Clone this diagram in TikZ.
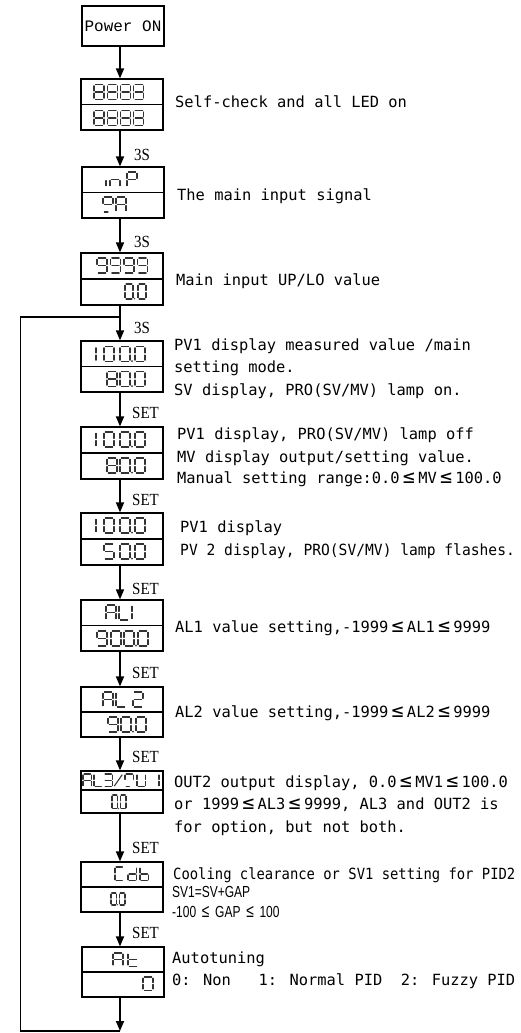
\documentclass[tikz,border=0pt]{standalone}
\usepackage{fontspec}
\setmainfont{Liberation Serif}
\newfontfamily\descfont{DejaVu Sans Mono}
\newfontfamily\descfontB[FakeStretch=0.95]{DejaVu Sans Mono}
\newfontfamily\descfontC[FakeStretch=0.9]{DejaVu Sans Mono}
\newfontfamily\pwrfont{Liberation Mono}
\newfontfamily\lblfont[FakeStretch=0.88]{Liberation Serif}
\newfontfamily\narrowfont[FakeStretch=0.75]{Liberation Sans}
\usetikzlibrary{arrows.meta}

\newcommand\LE{\makebox[1.204em]{\scalebox{1.3}{≤}}}
\newcommand\LEn{\makebox[19pt]{\scalebox{1.15}{≤}}}
\newcommand\SEGa{\draw[seg] (1.3,0) -- (8.7,0);}
\newcommand\SEGb{\draw[seg] (10,1.3) -- (10,6.4);}
\newcommand\SEGc{\draw[seg] (10,8.6) -- (10,13.7);}
\newcommand\SEGd{\draw[seg] (1.3,15) -- (8.7,15);}
\newcommand\SEGe{\draw[seg] (0,8.6) -- (0,13.7);}
\newcommand\SEGf{\draw[seg] (0,1.3) -- (0,6.4);}
\newcommand\SEGg{\draw[seg] (1.3,7.5) -- (8.7,7.5);}
\newcommand\SEGh{\draw[seg] (1.3,15) -- (5,15);}
\newcommand\SEGs{\draw[seg] (0.5,14) -- (9.5,1);}
\newcommand\SEGp{\fill[segc] (12,14.6) circle (0.9);}
\newcommand\sseg[4][]{\begin{scope}[shift={(#2,#3)},#1]\foreach \s in {#4}{\csname SEG\s\endcsname}\end{scope}}

\tikzset{
  seg/.style={draw=black!80, line width=1.05pt, line cap=round},
  segc/.style={fill=black!80},
  dispbox/.style={draw, line width=1.2pt, minimum width=82pt, inner sep=0pt},
  arr/.style={line width=1.7pt, -{Triangle[length=10pt,width=8pt]}},
  loopline/.style={line width=1.2pt},
  desc/.style={anchor=base west, inner sep=0pt, font=\descfont\fontsize{15.4}{18}\selectfont},
  lbl/.style={anchor=base west, inner sep=0pt, font=\lblfont\fontsize{17}{20}\selectfont}
}

\begin{document}
\begin{tikzpicture}[x=1pt,y=-1pt]
\fill[white] (0,0) rectangle (520,1033);
\useasboundingbox (0,0) rectangle (520,1033);

% boxes
\node[dispbox, minimum height=40pt, font=\pwrfont\fontsize{16}{18}\selectfont] (p0) at (123,26) {Power ON};
\node[dispbox, minimum height=51pt] (b1) at (122,104.5) {};
\node[dispbox, minimum height=51pt] (b2) at (123,192.5) {};
\node[dispbox, minimum height=52pt] (b3) at (122,279) {};
\node[dispbox, minimum height=51pt] (b4) at (122,366.5) {};
\node[dispbox, minimum height=52pt] (b5) at (122,453) {};
\node[dispbox, minimum height=52pt] (b6) at (122,539) {};
\node[dispbox, minimum height=51pt] (b7) at (122,625.5) {};
\node[dispbox, minimum height=50pt] (b8) at (122,712) {};
\node[dispbox, minimum height=42pt] (b9) at (122,792) {};
\node[dispbox, minimum height=50pt] (b10) at (122,887) {};
\node[dispbox, minimum height=50pt] (b11) at (123,972) {};

% dividers
\foreach \b in {b1,b2,b3,b4,b5,b6,b7,b8,b10,b11}{\draw[line width=1.2pt] (\b.west) -- (\b.east);}
\draw[line width=1.2pt] ([yshift=2pt]b9.west) -- ([yshift=2pt]b9.east);

% arrows
\coordinate (ax) at (120,0);
\coordinate (bot) at (120,1031);
\coordinate (lc) at (20.5,1031);
\coordinate (lj) at (120,317);
\draw[arr] (p0.south -| ax) -- (b1.north -| ax);
\draw[arr] (b1.south -| ax) -- (b2.north -| ax);
\draw[arr] (b2.south -| ax) -- (b3.north -| ax);
\draw[arr] (b3.south -| ax) -- (b4.north -| ax);
\draw[arr] (b4.south -| ax) -- (b5.north -| ax);
\draw[arr] (b5.south -| ax) -- (b6.north -| ax);
\draw[arr] (b6.south -| ax) -- (b7.north -| ax);
\draw[arr] (b7.south -| ax) -- (b8.north -| ax);
\draw[arr] (b8.south -| ax) -- (b9.north -| ax);
\draw[arr] (b9.south -| ax) -- (b10.north -| ax);
\draw[arr] (b10.south -| ax) -- (b11.north -| ax);
\draw[arr] (b11.south -| ax) -- (bot);
\draw[loopline] (bot) -- (lc) |- (lj);

% arrow labels
\node[lbl] (l1) at (134,160) {3S};
\node[lbl] (l2) at (134,247) {3S};
\node[lbl] (l3) at (134,333) {3S};
\node[lbl] (l4) at (132,418) {SET};
\node[lbl] (l5) at (132,505) {SET};
\node[lbl] (l6) at (132,594) {SET};
\node[lbl] (l7) at (132,678) {SET};
\node[lbl] (l8) at (132,762) {SET};
\node[lbl] (l9) at (132,853) {SET};
\node[lbl] (l10) at (132,938) {SET};

% descriptions
\node[desc] (t1) at (175,107) {Self-check and all LED on};
\node[desc] (t2) at (177,200) {The main input signal};
\node[desc] (t3) at (176,285) {Main input UP/LO value};
\node[desc] (t4a) at (174,350) {PV1 display measured value /main};
\node[desc] (t4b) at (174,372) {setting mode.};
\node[desc] (t4c) at (174,395) {SV display, PRO(SV/MV) lamp on.};
\node[desc] (t5a) at (177,439) {PV1 display, PRO(SV/MV) lamp off};
\node[desc] (t5b) at (177,462) {MV display output/setting value.};
\node[desc] (t5c) at (177,483) {Manual setting range:0.0\LE MV\LE 100.0};
\node[desc] (t6a) at (180,532) {PV1 display};
\node[desc, font=\descfontB\fontsize{15.4}{18}\selectfont] (t6b) at (180,555) {PV 2 display, PRO(SV/MV) lamp flashes.};
\node[desc] (t7) at (175,632) {AL1 value setting,-1999\LE AL1\LE 9999};
\node[desc] (t8) at (175,717) {AL2 value setting,-1999\LE AL2\LE 9999};
\node[desc] (t9a) at (174,787) {OUT2 output display, 0.0\LE MV1\LE 100.0};
\node[desc] (t9b) at (174,809) {or 1999\LE AL3\LE 9999, AL3 and OUT2 is};
\node[desc] (t9c) at (174,832) {for option, but not both.};
\node[desc, font=\descfontC\fontsize{15.4}{18}\selectfont] (t10a) at (173,879) {Cooling clearance or SV1 setting for PID2};
\node[desc, font=\narrowfont\fontsize{16}{18}\selectfont] (t10b) at (172,897) {SV1=SV+GAP};
\node[desc, font=\narrowfont\fontsize{16}{18}\selectfont] (t10c) at (172,917) {-100\LEn GAP\LEn 100};
\node[desc] (t11a) at (172,963) {Autotuning};
\node[desc] (t11b) at (172,985) {0: Non~~~1: Normal PID~~2: Fuzzy PID};

% seven-segment contents
\foreach \xx in {94,107.3,120.6,133.9}{
  \sseg{\xx}{84.5}{a,b,c,d,e,f,g}
  \sseg{\xx}{110.5}{a,b,c,d,e,f,g}
}
% inP / 0A
\sseg{106}{172}{e}
\sseg{110}{172}{c,e,g}
\sseg{127}{172}{a,b,e,f,g}
\sseg{103}{197}{a,b,f,g,h}
\sseg{116}{197}{a,b,c,e,f,g}
% 9999 / 0.0
\foreach \xx in {97,110.5,124,137.5}{\sseg{\xx}{258}{a,b,c,d,f,g}}
\sseg[xscale=0.8]{125}{284}{a,b,c,d,e,f,p}
\sseg[xscale=0.8]{138}{284}{a,b,c,d,e,f}
% 100.0 rows
\foreach \yy in {346.5,432,518}{
  \sseg{86}{\yy}{b,c}
  \sseg{104}{\yy}{a,b,c,d,e,f}
  \sseg{120}{\yy}{a,b,c,d,e,f,p}
  \sseg{135}{\yy}{a,b,c,d,e,f}
}
% 80.0 rows
\foreach \yy in {371.5,458}{
  \sseg{107}{\yy}{a,b,c,d,e,f,g}
  \sseg{120}{\yy}{a,b,c,d,e,f,p}
  \sseg{135}{\yy}{a,b,c,d,e,f}
}
% 50.0
\sseg{104}{544}{a,c,d,f,g}
\sseg{120}{544}{a,b,c,d,e,f,p}
\sseg{135}{544}{a,b,c,d,e,f}
% AL1 / 900.0
\sseg{106}{605}{a,b,c,e,f,g}
\sseg{119}{605}{d,e,f}
\sseg{132}{605}{e,f}
\sseg{97}{631}{a,b,c,d,f,g}
\sseg{111}{631}{a,b,c,d,e,f}
\sseg{124}{631}{a,b,c,d,e,f,p}
\sseg{138}{631}{a,b,c,d,e,f}
% AL2 / 90.0
\sseg{103}{692}{a,b,c,e,f,g}
\sseg{116}{692}{d,e,f}
\sseg{133}{692}{a,b,g,e,d}
\sseg{108}{717}{a,b,c,d,f,g}
\sseg{121}{717}{a,b,c,d,e,f,p}
\sseg{136}{717}{a,b,c,d,e,f}
% AL3/OUT / 0.0
\sseg[xscale=0.85,yscale=0.85]{83}{774}{a,b,c,e,f,g}
\sseg[xscale=0.85,yscale=0.85]{94}{774}{d,e,f}
\sseg[xscale=0.85,yscale=0.85]{104}{774}{a,b,c,d,g}
\sseg[xscale=0.85,yscale=0.85]{114}{774}{s}
\sseg[xscale=0.85,yscale=0.85]{125}{774}{a,b,f,h}
\sseg[xscale=0.85,yscale=0.85]{137}{774}{b,c,d,e,f}
\sseg[xscale=0.85,yscale=0.85]{150.5}{774}{b,c}
\sseg[xscale=0.55,yscale=0.93]{112}{795}{a,b,c,d,e,f,p}
\sseg[xscale=0.55,yscale=0.93]{120.5}{795}{a,b,c,d,e,f}
% Cdb / 0.0
\sseg[xscale=0.85,yscale=0.93]{115}{867}{a,d,e,f}
\sseg[xscale=0.85,yscale=0.93]{128}{867}{b,c,d,e,g}
\sseg[xscale=0.85,yscale=0.93]{140}{867}{c,d,e,f,g}
\sseg[xscale=0.55,yscale=0.8]{111}{893}{a,b,c,d,e,f,p}
\sseg[xscale=0.55,yscale=0.8]{119.5}{893}{a,b,c,d,e,f}
% At / 0
\sseg[yscale=0.87]{113}{953}{a,b,c,e,f,g}
\sseg[yscale=0.87]{128}{953}{d,e,f,g}
\sseg[yscale=0.87]{143}{977}{a,b,c,d,e,f}
\end{tikzpicture}
\end{document}
